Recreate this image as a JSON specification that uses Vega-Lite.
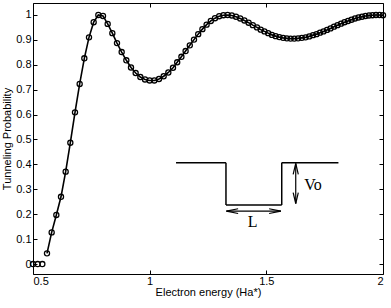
{
  "$schema": "https://vega.github.io/schema/vega-lite/v6.json",
  "width": 350,
  "height": 271,
  "autosize": "none",
  "padding": {"left": 33, "top": 3, "right": 8, "bottom": 34},
  "background": "white",
  "config": {
    "view": {"stroke": "black", "strokeWidth": 1},
    "axis": {
      "grid": false, "domain": false, "tickColor": "black", "tickSize": -4, "tickWidth": 1,
      "labelFont": "Liberation Sans", "labelFontSize": 11, "labelColor": "black",
      "titleFont": "Liberation Sans", "titleFontSize": 11, "titleFontWeight": "normal", "titleColor": "black"
    }
  },
  "datasets": {
    "curve": [
      {"x":0.50,"y":0},{"x":0.52,"y":0},{"x":0.54,"y":0},{"x":0.56,"y":0.043},{"x":0.58,"y":0.127},
      {"x":0.60,"y":0.197},{"x":0.62,"y":0.270},{"x":0.64,"y":0.371},{"x":0.66,"y":0.487},{"x":0.68,"y":0.609},
      {"x":0.70,"y":0.723},{"x":0.72,"y":0.826},{"x":0.74,"y":0.910},{"x":0.76,"y":0.971},{"x":0.78,"y":1.000},
      {"x":0.80,"y":0.996},{"x":0.82,"y":0.964},{"x":0.84,"y":0.927},{"x":0.86,"y":0.887},{"x":0.88,"y":0.851},
      {"x":0.90,"y":0.818},{"x":0.92,"y":0.789},{"x":0.94,"y":0.767},{"x":0.96,"y":0.751},{"x":0.98,"y":0.741},
      {"x":1.00,"y":0.737},{"x":1.02,"y":0.737},{"x":1.04,"y":0.743},{"x":1.06,"y":0.754},{"x":1.08,"y":0.769},
      {"x":1.10,"y":0.788},{"x":1.118,"y":0.810},{"x":1.136,"y":0.832},{"x":1.154,"y":0.855},{"x":1.172,"y":0.878},
      {"x":1.190,"y":0.901},{"x":1.208,"y":0.923},{"x":1.226,"y":0.943},{"x":1.244,"y":0.961},{"x":1.262,"y":0.976},
      {"x":1.280,"y":0.987},{"x":1.298,"y":0.995},{"x":1.316,"y":0.999},{"x":1.334,"y":1.000},{"x":1.352,"y":0.998},
      {"x":1.370,"y":0.993},{"x":1.388,"y":0.986},{"x":1.406,"y":0.978},{"x":1.424,"y":0.969},{"x":1.442,"y":0.959},
      {"x":1.460,"y":0.950},{"x":1.476,"y":0.941},{"x":1.492,"y":0.934},{"x":1.508,"y":0.927},{"x":1.524,"y":0.920},
      {"x":1.540,"y":0.915},{"x":1.556,"y":0.911},{"x":1.572,"y":0.908},{"x":1.588,"y":0.906},{"x":1.604,"y":0.905},
      {"x":1.620,"y":0.905},{"x":1.636,"y":0.906},{"x":1.652,"y":0.908},{"x":1.668,"y":0.910},{"x":1.684,"y":0.914},
      {"x":1.700,"y":0.919},{"x":1.715,"y":0.923},{"x":1.730,"y":0.929},{"x":1.745,"y":0.934},{"x":1.760,"y":0.940},
      {"x":1.775,"y":0.946},{"x":1.790,"y":0.953},{"x":1.805,"y":0.959},{"x":1.820,"y":0.965},{"x":1.835,"y":0.971},
      {"x":1.850,"y":0.976},{"x":1.865,"y":0.981},{"x":1.880,"y":0.986},{"x":1.895,"y":0.990},{"x":1.910,"y":0.993},
      {"x":1.925,"y":0.996},{"x":1.940,"y":0.998},{"x":1.955,"y":0.999},{"x":1.970,"y":1.000},{"x":1.985,"y":1.000},
      {"x":2.000,"y":0.999}
    ],
    "well": [
      {"x":1.113,"y":0.407,"x2":1.327,"y2":0.407},
      {"x":1.327,"y":0.407,"x2":1.327,"y2":0.237},
      {"x":1.327,"y":0.237,"x2":1.566,"y2":0.237},
      {"x":1.566,"y":0.237,"x2":1.566,"y2":0.407},
      {"x":1.566,"y":0.407,"x2":1.809,"y2":0.407}
    ],
    "arrows": [
      {"x":1.626,"y":0.404,"x2":1.626,"y2":0.243},
      {"x":1.626,"y":0.404,"x2":1.615,"y2":0.360},
      {"x":1.626,"y":0.404,"x2":1.637,"y2":0.360},
      {"x":1.626,"y":0.243,"x2":1.615,"y2":0.287},
      {"x":1.626,"y":0.243,"x2":1.637,"y2":0.287},
      {"x":1.329,"y":0.2125,"x2":1.562,"y2":0.2125},
      {"x":1.329,"y":0.2125,"x2":1.379,"y2":0.222},
      {"x":1.329,"y":0.2125,"x2":1.379,"y2":0.203},
      {"x":1.562,"y":0.2125,"x2":1.512,"y2":0.222},
      {"x":1.562,"y":0.2125,"x2":1.512,"y2":0.203}
    ],
    "labels": [
      {"x":1.662,"y":0.317,"t":"Vo"},
      {"x":1.420,"y":0.170,"t":"L"}
    ]
  },
  "layer": [
    {
      "data": {"name": "curve"},
      "transform": [{"filter": "datum.x >= 0.555"}],
      "mark": {"type": "line", "color": "black", "strokeWidth": 1.6},
      "encoding": {
        "x": {"field": "x", "type": "quantitative",
              "scale": {"domain": [0.5, 2], "nice": false, "zero": false},
              "axis": {"orient": "bottom", "values": [0.5, 1, 1.5, 2], "format": "~g", "labelPadding": 5, "title": "Electron energy (Ha*)", "titlePadding": 0}},
        "y": {"field": "y", "type": "quantitative",
              "scale": {"domain": [-0.04, 1.048], "nice": false, "zero": false},
              "axis": {"orient": "left", "values": [0,0.1,0.2,0.3,0.4,0.5,0.6,0.7,0.8,0.9,1], "format": "~g", "labelPadding": 6, "title": "Tunneling Probability", "titlePadding": 3}}
      }
    },
    {
      "data": {"name": "curve"},
      "mark": {"type": "point", "shape": "circle", "filled": false, "color": "black", "size": 26, "strokeWidth": 1.3, "opacity": 1},
      "encoding": {
        "x": {"field": "x", "type": "quantitative",
              "axis": {"orient": "top", "values": [0.5, 1, 1.5, 2], "labels": false, "title": null}},
        "y": {"field": "y", "type": "quantitative",
              "axis": {"orient": "right", "values": [0,0.1,0.2,0.3,0.4,0.5,0.6,0.7,0.8,0.9,1], "labels": false, "title": null}}
      }
    },
    {
      "data": {"name": "well"},
      "mark": {"type": "rule", "color": "black", "strokeWidth": 1.5},
      "encoding": {
        "x": {"field": "x", "type": "quantitative", "axis": null},
        "y": {"field": "y", "type": "quantitative", "axis": null},
        "x2": {"field": "x2"},
        "y2": {"field": "y2"}
      }
    },
    {
      "data": {"name": "arrows"},
      "mark": {"type": "rule", "color": "black", "strokeWidth": 1.2},
      "encoding": {
        "x": {"field": "x", "type": "quantitative", "axis": null},
        "y": {"field": "y", "type": "quantitative", "axis": null},
        "x2": {"field": "x2"},
        "y2": {"field": "y2"}
      }
    },
    {
      "data": {"name": "labels"},
      "mark": {"type": "text", "font": "Liberation Serif", "fontSize": 16, "align": "left", "baseline": "middle", "color": "black"},
      "encoding": {
        "x": {"field": "x", "type": "quantitative", "axis": null},
        "y": {"field": "y", "type": "quantitative", "axis": null},
        "text": {"field": "t"}
      }
    }
  ],
  "resolve": {"axis": {"x": "independent", "y": "independent"}}
}
